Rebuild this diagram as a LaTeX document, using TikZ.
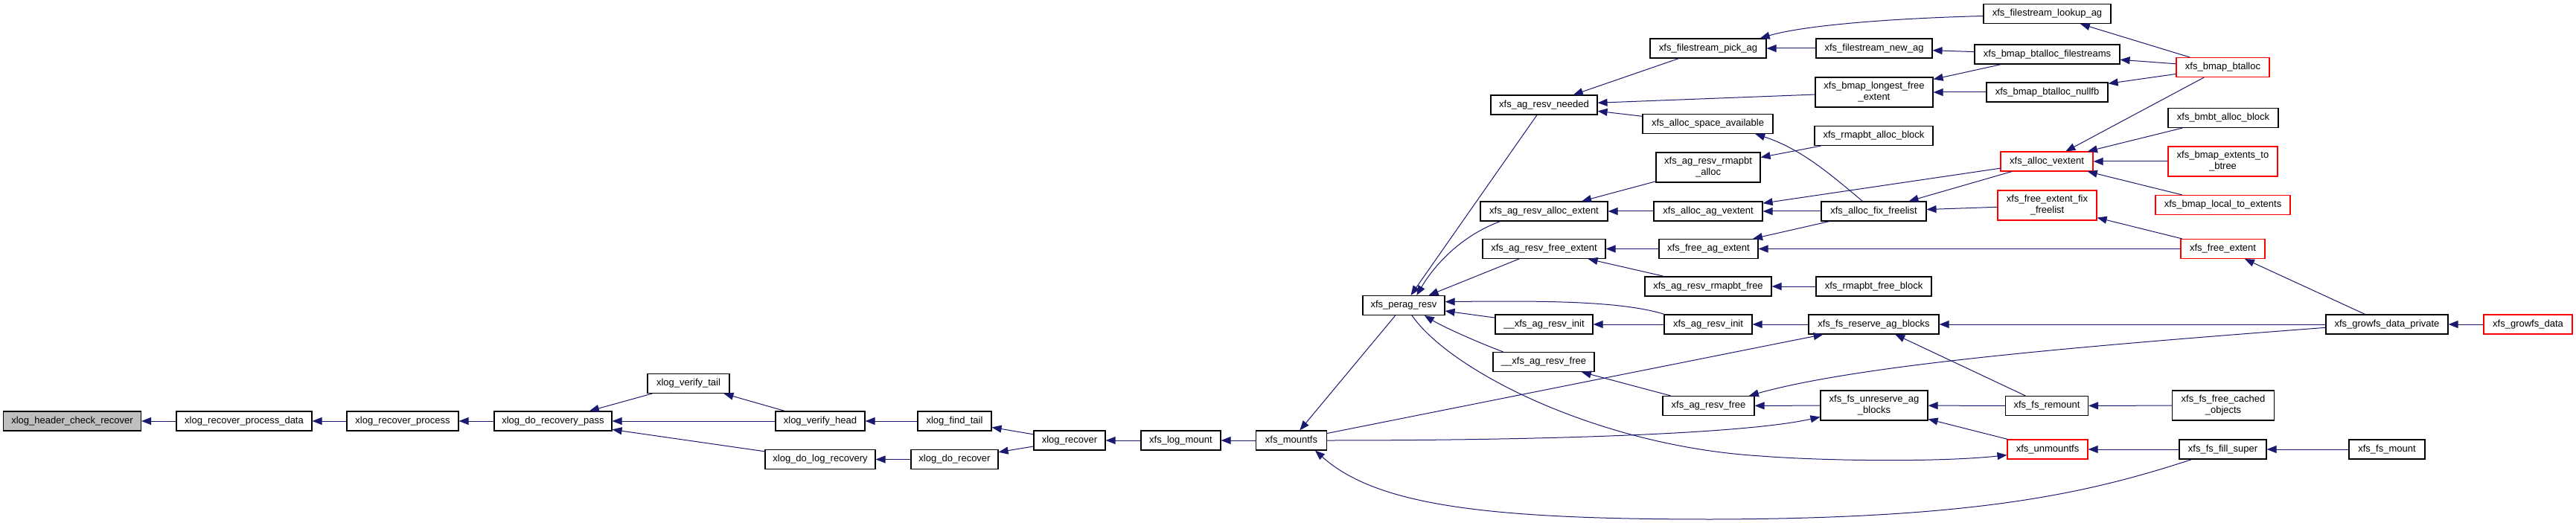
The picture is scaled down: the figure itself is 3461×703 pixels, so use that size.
\documentclass[tikz,border=0pt]{standalone}
\usepackage{fontspec}
\setmainfont{Liberation Sans}
\usetikzlibrary{arrows.meta}
\definecolor{edgeblue}{HTML}{191970}
\definecolor{hdrgray}{HTML}{BFBFBF}
\begin{document}
\begin{tikzpicture}[x=1pt,y=-1pt,
  nd/.style={draw=black, line width=1.1pt, fill=white, inner sep=0pt, minimum height=26pt, align=center, font=\fontsize{13}{15}\selectfont},
  rnd/.style={nd, draw=red},
  two/.style={minimum height=40pt},
  ed/.style={draw=edgeblue, line width=1pt, -{Triangle[length=13pt,width=10pt]}}]
\useasboundingbox (0,0) rectangle (3461,703);
\node[nd,fill=hdrgray,minimum width=185pt] (hdr) at (97,566) {xlog\_header\_check\_recover};
\node[nd,minimum width=182pt] (rpd) at (328,566) {xlog\_recover\_process\_data};
\node[nd,minimum width=150pt] (rp) at (541,566) {xlog\_recover\_process};
\node[nd,minimum width=158pt] (drp) at (743,566) {xlog\_do\_recovery\_pass};
\node[nd,minimum width=110pt] (vt) at (925,515.5) {xlog\_verify\_tail};
\node[nd,minimum width=120pt] (vh) at (1102,566) {xlog\_verify\_head};
\node[nd,minimum width=148pt] (dlr) at (1102,617.5) {xlog\_do\_log\_recovery};
\node[nd,minimum width=99pt] (ft) at (1282.5,566) {xlog\_find\_tail};
\node[nd,minimum width=117pt] (dr) at (1282.5,617.5) {xlog\_do\_recover};
\node[nd,minimum width=96pt] (rec) at (1437,592) {xlog\_recover};
\node[nd,minimum width=107pt] (lm) at (1586.5,592) {xfs\_log\_mount};
\node[nd,minimum width=95pt] (mfs) at (1735,592) {xfs\_mountfs};
\node[nd,minimum width=110pt] (pr) at (1886,410.5) {xfs\_perag\_resv};
\node[nd,minimum width=143pt] (arn) at (2074.5,141) {xfs\_ag\_resv\_needed};
\node[nd,minimum width=171pt] (arae) at (2074.5,284) {xfs\_ag\_resv\_alloc\_extent};
\node[nd,minimum width=165pt] (arfe) at (2074.5,334.5) {xfs\_ag\_resv\_free\_extent};
\node[nd,minimum width=131pt] (uari) at (2074.5,436) {\_\_xfs\_ag\_resv\_init};
\node[nd,minimum width=136pt] (uarf) at (2074,486.5) {\_\_xfs\_ag\_resv\_free};
\node[nd,minimum width=156pt] (fpa) at (2295,65) {xfs\_filestream\_pick\_ag};
\node[nd,minimum width=175pt] (asa) at (2294.5,166.5) {xfs\_alloc\_space\_available};
\node[nd,two,minimum width=140pt] (arra) at (2295,225) {xfs\_ag\_resv\_rmapbt\\\_alloc};
\node[nd,minimum width=146pt] (aav) at (2295,284) {xfs\_alloc\_ag\_vextent};
\node[nd,minimum width=133pt] (fae) at (2295.5,334.5) {xfs\_free\_ag\_extent};
\node[nd,minimum width=170pt] (arrf) at (2295,385) {xfs\_ag\_resv\_rmapbt\_free};
\node[nd,minimum width=118pt] (ari) at (2295,436) {xfs\_ag\_resv\_init};
\node[nd,minimum width=123pt] (arf) at (2295.5,545.5) {xfs\_ag\_resv\_free};
\node[nd,minimum width=156pt] (fna) at (2518,65) {xfs\_filestream\_new\_ag};
\node[nd,two,minimum width=158pt] (blfe) at (2518,124) {xfs\_bmap\_longest\_free\\\_extent};
\node[nd,minimum width=159pt] (rab) at (2517.5,182.5) {xfs\_rmapbt\_alloc\_block};
\node[nd,minimum width=141pt] (aff) at (2517.5,284) {xfs\_alloc\_fix\_freelist};
\node[nd,minimum width=155pt] (rfb) at (2517.5,385) {xfs\_rmapbt\_free\_block};
\node[nd,minimum width=175pt] (fsr) at (2517.5,436) {xfs\_fs\_reserve\_ag\_blocks};
\node[nd,two,minimum width=144pt] (fsu) at (2518,545) {xfs\_fs\_unreserve\_ag\\\_blocks};
\node[nd,minimum width=171pt] (fla) at (2750.5,18.5) {xfs\_filestream\_lookup\_ag};
\node[nd,minimum width=195pt] (bbf) at (2750.5,73) {xfs\_bmap\_btalloc\_filestreams};
\node[nd,minimum width=163pt] (bbn) at (2750.5,124) {xfs\_bmap\_btalloc\_nullfb};
\node[rnd,minimum width=124pt] (av) at (2750,217) {xfs\_alloc\_vextent};
\node[rnd,two,minimum width=133pt] (fefl) at (2750.5,276) {xfs\_free\_extent\_fix\\\_freelist};
\node[nd,minimum width=111pt] (fsrm) at (2750,545.5) {xfs\_fs\_remount};
\node[rnd,minimum width=108pt] (um) at (2751,604) {xfs\_unmountfs};
\node[rnd,minimum width=125pt] (bb) at (2986.5,90.5) {xfs\_bmap\_btalloc};
\node[nd,minimum width=148pt] (bab) at (2987,158.5) {xfs\_bmbt\_alloc\_block};
\node[rnd,two,minimum width=147pt] (bet) at (2986.5,217) {xfs\_bmap\_extents\_to\\\_btree};
\node[rnd,minimum width=181pt] (blte) at (2986.5,275.5) {xfs\_bmap\_local\_to\_extents};
\node[rnd,minimum width=113pt] (fe) at (2986.5,334.5) {xfs\_free\_extent};
\node[nd,two,minimum width=137pt] (fsfc) at (2987,545) {xfs\_fs\_free\_cached\\\_objects};
\node[nd,minimum width=117pt] (ffs) at (2986.5,604) {xfs\_fs\_fill\_super};
\node[nd,minimum width=164pt] (gdp) at (3207,436) {xfs\_growfs\_data\_private};
\node[nd,minimum width=102pt] (fm) at (3207,604) {xfs\_fs\_mount};
\node[rnd,minimum width=119pt] (gd) at (3396.5,436) {xfs\_growfs\_data};
% edges
\draw[ed] (rpd) -- (hdr);
\draw[ed] (rp) -- (rpd);
\draw[ed] (drp) -- (rp);
\draw[ed] (vt) -- (drp);
\draw[ed] (vh) -- (drp);
\draw[ed] (dlr) -- (drp);
\draw[ed] (vh) -- (vt);
\draw[ed] (ft) -- (vh);
\draw[ed] (dr) -- (dlr);
\draw[ed] (rec) -- (ft);
\draw[ed] (rec) -- (dr);
\draw[ed] (lm) -- (rec);
\draw[ed] (mfs) -- (lm);
\draw[ed] (pr) -- (mfs);
\draw[ed] (mfs) -- (fsr);
\draw[ed] (mfs.east) .. controls (2100,592) and (2350,582) .. (fsu.-168);
\draw[ed] (ffs.198) .. controls (2800,665) and (2650,697) .. (2300,698) .. controls (2000,698) and (1850,680) .. (mfs.-23);
\draw[ed] (pr.-51) .. controls (1950,500) and (2150,600) .. (2366,613) .. controls (2440,619) and (2600,622) .. (um.188);
\draw[ed] (arn) -- (pr);
\draw[ed] (arae.193) .. controls (1960,318) and (1925,360) .. (pr.38);
\draw[ed] (arfe) -- (pr);
\draw[ed] (ari.167) .. controls (2180,405) and (2080,404) .. (pr.5);
\draw[ed] (uari) -- (pr);
\draw[ed] (uarf.166) .. controls (1990,462) and (1940,440) .. (pr.-26);
\draw[ed] (fpa) -- (arn);
\draw[ed] (blfe) -- (arn);
\draw[ed] (asa) -- (arn);
\draw[ed] (arra) -- (arae);
\draw[ed] (aav) -- (arae);
\draw[ed] (fae) -- (arfe);
\draw[ed] (arrf) -- (arfe);
\draw[ed] (fla.182) .. controls (2530,25) and (2420,35) .. (fpa.11);
\draw[ed] (fna) -- (fpa);
\draw[ed] (bbf) -- (fna);
\draw[ed] (bbf) -- (blfe);
\draw[ed] (bbn) -- (blfe);
\draw[ed] (aff.138) .. controls (2460,235) and (2420,200) .. (asa.-12);
\draw[ed] (rab) -- (arra);
\draw[ed] (av) -- (aav);
\draw[ed] (aff) -- (aav);
\draw[ed] (av) -- (aff);
\draw[ed] (fefl) -- (aff);
\draw[ed] (aff) -- (fae);
\draw[ed] (fe) -- (fae);
\draw[ed] (rfb) -- (arrf);
\draw[ed] (ari) -- (uari);
\draw[ed] (fsr) -- (ari);
\draw[ed] (arf) -- (uarf);
\draw[ed] (fsu) -- (arf);
\draw[ed] (gdp.183) .. controls (2800,465) and (2500,490) .. (arf.14);
\draw[ed] (gdp) -- (fsr);
\draw[ed] (fsrm) -- (fsr);
\draw[ed] (fsrm) -- (fsu);
\draw[ed] (um) -- (fsu);
\draw[ed] (fsfc) -- (fsrm);
\draw[ed] (ffs) -- (um);
\draw[ed] (fm) -- (ffs);
\draw[ed] (gd) -- (gdp);
\draw[ed] (bb) -- (fla);
\draw[ed] (bb) -- (bbf);
\draw[ed] (bb) -- (bbn);
\draw[ed] (bb) -- (av);
\draw[ed] (bab) -- (av);
\draw[ed] (bet) -- (av);
\draw[ed] (blte) -- (av);
\draw[ed] (fe) -- (fefl);
\draw[ed] (gdp) -- (fe);
\end{tikzpicture}
\end{document}
